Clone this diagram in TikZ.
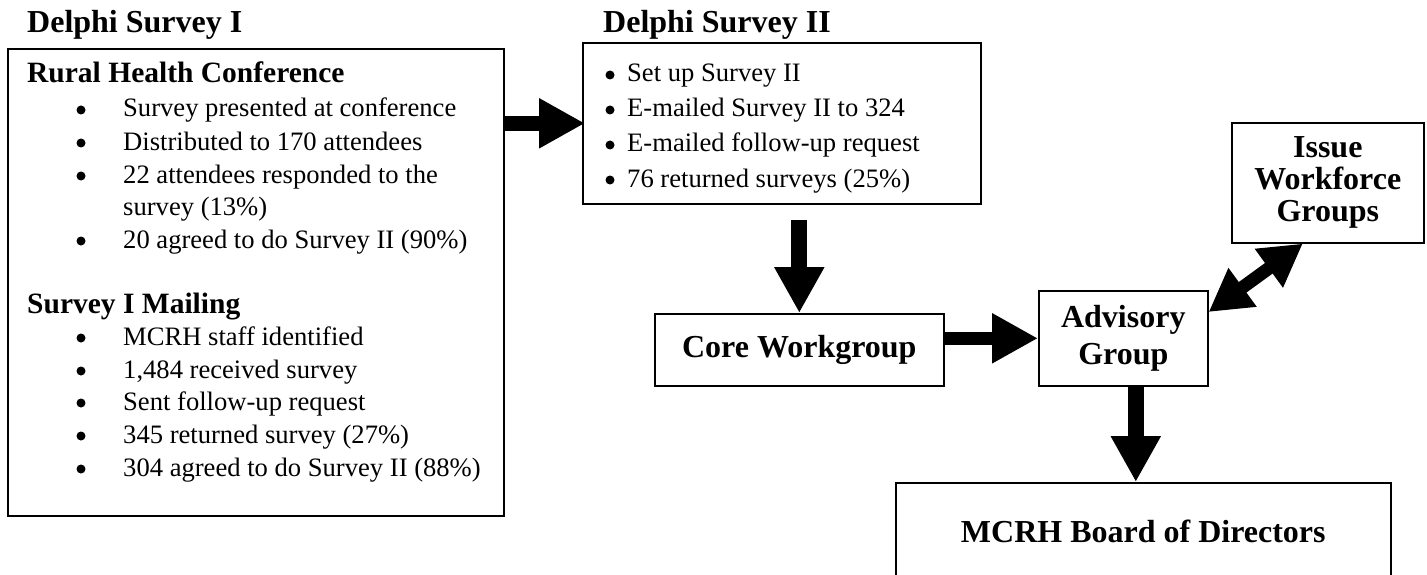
\documentclass[tikz,border=0pt]{standalone}
\usepackage{fontspec}
\setmainfont{Liberation Serif}
\usetikzlibrary{arrows.meta,positioning}

\tikzset{
  box/.style={draw, line width=1.6pt, inner sep=0pt},
  title/.style={anchor=base west, inner sep=0pt, font=\fontsize{32}{38}\selectfont\bfseries},
  subhead/.style={anchor=base west, inner sep=0pt, font=\fontsize{29.5}{35}\selectfont\bfseries},
  item/.style={anchor=base west, inner sep=0pt, font=\fontsize{26.6}{33}\selectfont},
  dot/.style={circle, fill, inner sep=0pt, minimum size=9pt},
  label/.style={box, align=center, font=\fontsize{32}{34}\selectfont\bfseries},
  bigarrow/.style={line width=15pt, -{Triangle[width=47pt,length=46pt]}},
  twoway/.style={line width=13pt, {Triangle[width=45pt,length=42pt]}-{Triangle[width=45pt,length=42pt]}},
}

\begin{document}
\begin{tikzpicture}[x=1pt,y=-1pt]
\useasboundingbox (0,0) rectangle (1427,575);
\clip (0,0) rectangle (1427,575);

% Delphi Survey I
\node[title] (t1) at (27,33) {Delphi Survey I};
\node[box, minimum width=496pt, minimum height=467pt, anchor=north west] (conf) at (7,48) {};
\node[subhead] (rhc) at (27,83) {Rural Health Conference};
\foreach \y/\t [count=\i] in {117/{Survey presented at conference},
    150/{Distributed to 170 attendees}, 183/{22 attendees responded to the},
    248/{20 agreed to do Survey II (90\%)}} {
  \node[dot] (rb\i) at (81,\y-7) {};
  \node[item] (rt\i) at (123,\y) {\t};
}
\node[item] (rt3b) at (123,215) {survey (13\%)};
\node[subhead] (mail) at (27,313) {Survey I Mailing};
\foreach \y/\t [count=\i] in {345/{MCRH staff identified}, 378/{1,484 received survey},
    410/{Sent follow-up request}, 443/{345 returned survey (27\%)},
    476/{304 agreed to do Survey II (88\%)}} {
  \node[dot] (mb\i) at (81,\y-7) {};
  \node[item] (mt\i) at (123,\y) {\t};
}

% Delphi Survey II
\node[title] (t2) at (603,33) {Delphi Survey II};
\node[box, minimum width=398pt, minimum height=161pt, anchor=north west] (survey2) at (582,42) {};
\foreach \y/\t [count=\i] in {82/{Set up Survey II}, 117/{E-mailed Survey II to 324},
    152/{E-mailed follow-up request}, 187/{76 returned surveys (25\%)}} {
  \node[dot] (sb\i) at (610,\y-7) {};
  \node[item] (st\i) at (627,\y) {\t};
}

% groups
\node[label, minimum width=289pt, minimum height=72pt, anchor=north west] (core) at (654,313) {Core Workgroup};
\node[label, minimum width=169pt, minimum height=95pt, anchor=north west, font=\fontsize{32}{37}\selectfont\bfseries] (adv) at (1038,290) {Advisory\\Group};
\node[label, minimum width=192pt, minimum height=120pt, anchor=north west, font=\fontsize{32}{32}\selectfont\bfseries] (issue) at (1231,122) {Issue\\Workforce\\Groups};
\node[label, minimum width=495pt, minimum height=98pt, anchor=north west] (board) at (895,482) {MCRH Board of Directors};

% arrows
\coordinate (a2s) at ([yshift=-15pt]survey2.south);
\coordinate (a4s) at ([xshift=12.5pt]adv.south);
\coordinate (a5s) at ([yshift=-22pt]adv.north east);
\coordinate (a5e) at ([xshift=-25pt]issue.south);
\draw[bigarrow] (conf.east |- survey2.west) -- ([xshift=3pt]survey2.west);
\draw[bigarrow, line width=16pt] (a2s -| core.north) -- (core.north);
\draw[bigarrow, line width=13pt] (core.east |- adv.west) -- (adv.west);
\draw[bigarrow, line width=16pt] (a4s) -- (a4s |- board.north);
\draw[twoway] (a5s) -- (a5e);
\end{tikzpicture}
\end{document}
